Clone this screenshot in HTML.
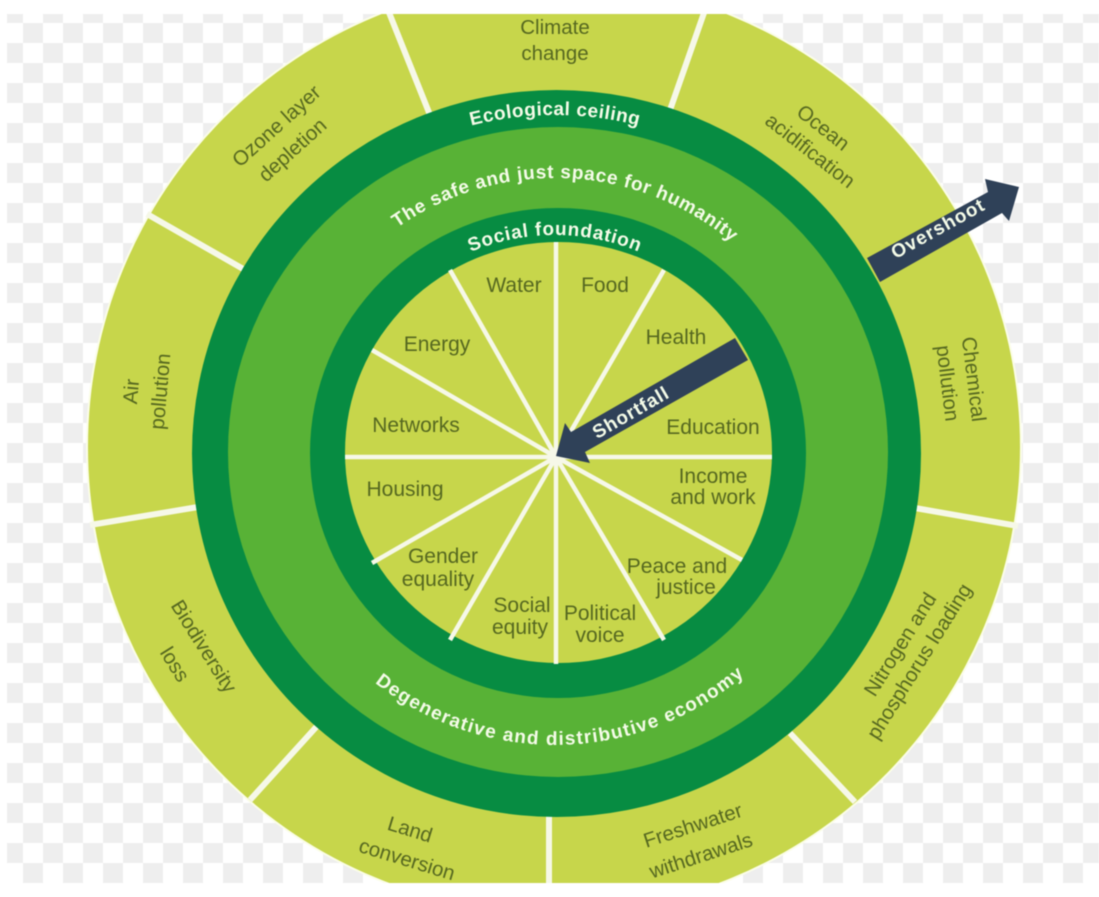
<!DOCTYPE html>
<html><head><meta charset="utf-8"><style>
html,body{margin:0;padding:0;background:#fff;width:1099px;height:897px;overflow:hidden}
svg{position:absolute;left:0;top:0;display:block;filter:blur(.5px)}
text{font-family:"Liberation Sans",sans-serif}
.o{font-size:20.5px;fill:#566820;text-anchor:middle}
.i{font-size:21px;fill:#566820;text-anchor:middle}
.w{font-size:19px;font-weight:bold;fill:#f4fbe8;text-anchor:middle}
</style></head><body>
<svg width="1099" height="897" viewBox="0 0 1099 897" xmlns="http://www.w3.org/2000/svg">
<defs>
<pattern id="ck" width="40" height="40" patternUnits="userSpaceOnUse" x="3" y="3">
<rect width="40" height="40" fill="#fff"/><rect width="20" height="20" fill="#eeeeee"/><rect x="20" y="20" width="20" height="20" fill="#eeeeee"/>
</pattern>
<clipPath id="c"><rect x="7" y="14" width="1092" height="869"/></clipPath>
<path id="a1" d="M217 453A338 338 0 0 1 893 453"/>
<path id="a2" d="M280 453A275 275 0 0 1 830 453"/>
<path id="a3" d="M337 453A218 218 0 0 1 773 453"/>
<path id="a4" d="M263 453A292 292 0 0 0 847 453"/>
</defs>
<g clip-path="url(#c)">
<rect x="7" y="14" width="1092" height="869" fill="url(#ck)"/>
<ellipse cx="554" cy="447" rx="468" ry="468" fill="#fbfde8"/>
<ellipse cx="554" cy="447" rx="466" ry="466" fill="#c7d64b"/>
<g stroke="#f6f8e8" stroke-width="6">
<line x1="388" y1="10" x2="430" y2="115"/>
<line x1="705" y1="10" x2="670" y2="110"/>
<line x1="147" y1="214" x2="245" y2="270"/>
<line x1="90" y1="525" x2="198" y2="507"/>
<line x1="250" y1="800" x2="318" y2="725"/>
<line x1="549" y1="815" x2="549" y2="890"/>
<line x1="790" y1="733" x2="855" y2="802"/>
<line x1="915" y1="508" x2="1018" y2="526"/>
</g>
</g>
<ellipse cx="556.5" cy="453.5" rx="364.5" ry="363.5" fill="#078c42"/>
<ellipse cx="558" cy="452" rx="330" ry="325" fill="#58b236"/>
<ellipse cx="558" cy="453" rx="248" ry="245" fill="#078c42"/>
<ellipse cx="558.5" cy="452.5" rx="213.5" ry="210.5" fill="#c7d64b"/>
<g stroke="#f6f8e8" stroke-width="4.5">
<line x1="556" y1="457" x2="556" y2="242"/>
<line x1="556" y1="457" x2="664" y2="270"/>
<line x1="556" y1="457" x2="772" y2="457"/>
<line x1="556" y1="457" x2="742" y2="560"/>
<line x1="556" y1="457" x2="664" y2="640"/>
<line x1="556" y1="457" x2="556" y2="664"/>
<line x1="556" y1="457" x2="450" y2="640"/>
<line x1="556" y1="457" x2="372" y2="563"/>
<line x1="556" y1="457" x2="345" y2="457"/>
<line x1="556" y1="457" x2="372" y2="350"/>
<line x1="556" y1="457" x2="450" y2="270"/>
</g>
<polygon points="735,338 748,360 585,452 590,463 556,456 565,423 571,432" fill="#2f4158"/>
<polygon points="867,258 880,282 1002,213 1009,221 1019,187 985,179 988,192" fill="#2f4158"/>
<g clip-path="url(#c)">
<text class="o" x="555" y="34">Climate</text>
<text class="o" x="555" y="60">change</text>
<text class="o" transform="translate(819,133) rotate(38)">Ocean</text>
<text class="o" transform="translate(806,156) rotate(38)">acidification</text>
<text class="o" transform="translate(967,380) rotate(83)">Chemical</text>
<text class="o" transform="translate(941,384) rotate(83)">pollution</text>
<text class="o" transform="translate(906,648) rotate(-58)">Nitrogen and</text>
<text class="o" transform="translate(925,665) rotate(-58)">phosphorus loading</text>
<text class="o" transform="translate(695,832) rotate(-18)">Freshwater</text>
<text class="o" transform="translate(703,862) rotate(-18)">withdrawals</text>
<text class="o" transform="translate(408,836) rotate(17)">Land</text>
<text class="o" transform="translate(405,866) rotate(17)">conversion</text>
<text class="o" transform="translate(198,650) rotate(58)">Biodiversity</text>
<text class="o" transform="translate(169,668) rotate(58)">loss</text>
<text class="o" transform="translate(138,392) rotate(-85)">Air</text>
<text class="o" transform="translate(167,392) rotate(-85)">pollution</text>
<text class="o" transform="translate(281,131) rotate(-42)">Ozone layer</text>
<text class="o" transform="translate(297,155) rotate(-42)">depletion</text>
</g>
<g>
<text class="i" x="514" y="292">Water</text>
<text class="i" x="605" y="292">Food</text>
<text class="i" x="676" y="344">Health</text>
<text class="i" x="437" y="351">Energy</text>
<text class="i" x="713" y="434">Education</text>
<text class="i" x="416" y="432">Networks</text>
<text class="i" x="713" y="483">Income</text>
<text class="i" x="713" y="504">and work</text>
<text class="i" x="405" y="496">Housing</text>
<text class="i" x="443" y="563">Gender</text>
<text class="i" x="438" y="586">equality</text>
<text class="i" x="677" y="573">Peace and</text>
<text class="i" x="686" y="594">justice</text>
<text class="i" x="522" y="612">Social</text>
<text class="i" x="520" y="634">equity</text>
<text class="i" x="600" y="620">Political</text>
<text class="i" x="600" y="642">voice</text>
</g>
<text class="w" letter-spacing=".5"><textPath href="#a1" startOffset="50%">Ecological ceiling</textPath></text>
<text class="w" letter-spacing=".7"><textPath href="#a2" startOffset="51.4%">The safe and just space for humanity</textPath></text>
<text class="w" letter-spacing=".8"><textPath href="#a3" startOffset="50%">Social foundation</textPath></text>
<text class="w" letter-spacing="1.25"><textPath href="#a4" startOffset="50.7%">Degenerative and distributive economy</textPath></text>
<text class="w" transform="translate(941,234) rotate(-29)" letter-spacing="1">Overshoot</text>
<text class="w" transform="translate(634,418) rotate(-30)" letter-spacing=".9">Shortfall</text>
</svg>
</body></html>
